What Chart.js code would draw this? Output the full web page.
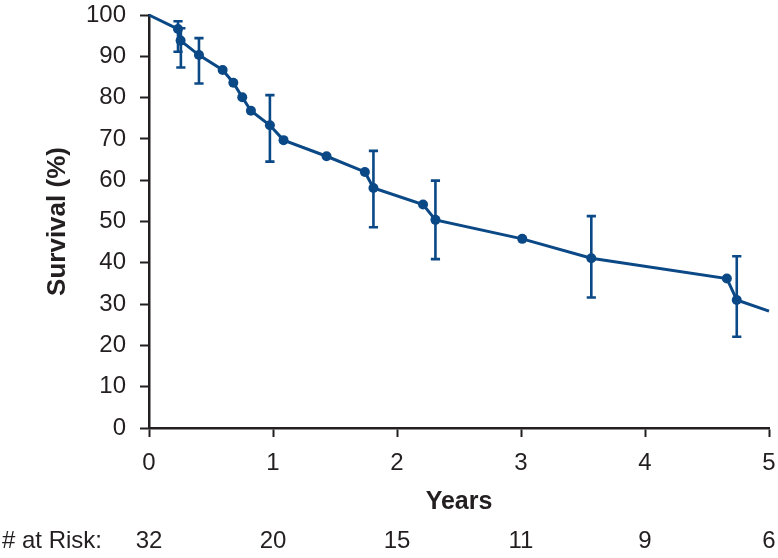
<!DOCTYPE html>
<html>
<head>
<meta charset="utf-8">
<script src="https://cdn.jsdelivr.net/npm/chart.js@4.4.0/dist/chart.umd.min.js"></script>
<style>
  html, body { margin: 0; padding: 0; background: #ffffff; }
  #wrap { width: 778px; height: 558px; }
</style>
</head>
<body>
<div id="wrap"><canvas id="c" width="778" height="558"></canvas></div>
<script>
// ---- data ----
const years    = [0, 0.234, 0.255, 0.403, 0.594, 0.680, 0.752, 0.822, 0.975, 1.085, 1.432, 1.741, 1.810, 2.210, 2.310, 3.010, 3.567, 4.660, 4.740, 5.0];
const survival = [100, 96.6, 93.8, 90.3, 86.7, 83.6, 80.1, 76.8, 73.3, 69.7, 65.8, 62.0, 58.1, 54.1, 50.4, 45.8, 41.1, 36.2, 31.0, 28.3];
// points that carry a marker (the curve start and end have none)
const marked   = [false, true, true, true, true, true, true, true, true, true, true, true, true, true, true, true, true, true, true, false];

const errYears = [0.234, 0.257, 0.403, 0.975, 1.810, 2.310, 3.567, 4.740];
const errLow   = [91.1, 87.3, 83.4, 64.5, 48.6, 40.9, 31.6, 22.1];
const errHigh  = [98.5, 96.8, 94.4, 80.6, 67.1, 59.9, 51.3, 41.6];

const riskYears  = [0, 1, 2, 3, 4, 5];
const riskCounts = ['32', '20', '15', '11', '9', '6'];
const riskLabel  = '# at Risk:';

const xTicks = [0, 1, 2, 3, 4, 5];
const yTicks = [0, 10, 20, 30, 40, 50, 60, 70, 80, 90, 100];

// ---- styling ----
const BLUE = '#0b4886';
const INK = '#231f20';
const FONT = '"Liberation Sans", Arial, Helvetica, sans-serif';

const points = years.map((x, i) => ({ x: x, y: survival[i] }));

const errorBarPlugin = {
  id: 'errorBars',
  afterDatasetsDraw(chart) {
    const { ctx } = chart;
    const xs = chart.scales.x, ys = chart.scales.y;
    ctx.save();
    ctx.strokeStyle = BLUE;
    ctx.lineWidth = 2.6;
    ctx.lineCap = 'butt';
    const half = 4.6;
    errYears.forEach((xv, i) => {
      const px = xs.getPixelForValue(xv);
      const pLo = ys.getPixelForValue(errLow[i]);
      const pHi = ys.getPixelForValue(errHigh[i]);
      ctx.beginPath();
      ctx.moveTo(px, pHi); ctx.lineTo(px, pLo);
      ctx.moveTo(px - half, pHi); ctx.lineTo(px + half, pHi);
      ctx.moveTo(px - half, pLo); ctx.lineTo(px + half, pLo);
      ctx.stroke();
    });
    ctx.restore();
  }
};

const riskTablePlugin = {
  id: 'riskTable',
  afterDraw(chart) {
    const { ctx } = chart;
    const xs = chart.scales.x;
    const y = 541;
    ctx.save();
    ctx.fillStyle = INK;
    ctx.font = '24px ' + FONT;
    ctx.textBaseline = 'middle';
    ctx.textAlign = 'left';
    ctx.fillText(riskLabel, 2, y);
    ctx.textAlign = 'center';
    riskYears.forEach((xv, i) => {
      ctx.fillText(riskCounts[i], xs.getPixelForValue(xv), y);
    });
    ctx.restore();
  }
};

new Chart(document.getElementById('c'), {
  type: 'scatter',
  data: {
    datasets: [{
      data: points,
      showLine: true,
      borderColor: BLUE,
      backgroundColor: BLUE,
      borderWidth: 3,
      tension: 0,
      pointRadius: marked.map(m => m ? 5 : 0),
      pointHoverRadius: marked.map(m => m ? 5 : 0),
      pointBorderWidth: 0,
      pointBackgroundColor: BLUE,
      clip: 10
    }]
  },
  options: {
    responsive: false,
    animation: false,
    events: [],
    layout: { padding: { top: 15, right: 9, left: 0, bottom: 0 } },
    plugins: { legend: { display: false }, tooltip: { enabled: false } },
    scales: {
      x: {
        type: 'linear',
        min: 0, max: 5,
        afterBuildTicks(scale) { scale.ticks = xTicks.map(v => ({ value: v })); },
        afterFit(scale) { scale.height = 130; scale.paddingLeft = 0; scale.paddingRight = 0; },
        border: { display: true, color: INK, width: 2.5 },
        grid: { drawOnChartArea: false, drawTicks: true, tickLength: 9, tickWidth: 2, tickColor: INK },
        ticks: { color: INK, font: { family: FONT, size: 24 }, padding: 12, maxRotation: 0 },
        title: {
          display: true, text: 'Years', color: INK,
          font: { family: FONT, size: 25, weight: 'bold' },
          padding: { top: 0, bottom: 41 }
        }
      },
      y: {
        type: 'linear',
        min: 0, max: 100,
        afterBuildTicks(scale) { scale.ticks = yTicks.map(v => ({ value: v })); },
        afterFit(scale) { scale.width = 149; scale.paddingTop = 0; scale.paddingBottom = 0; },
        border: { display: true, color: INK, width: 2.5 },
        grid: { drawOnChartArea: false, drawTicks: true, tickLength: 9, tickWidth: 2, tickColor: INK },
        ticks: { color: INK, font: { family: FONT, size: 24 }, padding: 14 },
        title: {
          display: true, text: 'Survival (%)', color: INK,
          font: { family: FONT, size: 26, weight: 'bold' },
          padding: { top: 42, bottom: 0 }
        }
      }
    }
  },
  plugins: [errorBarPlugin, riskTablePlugin]
});
</script>
</body>
</html>
